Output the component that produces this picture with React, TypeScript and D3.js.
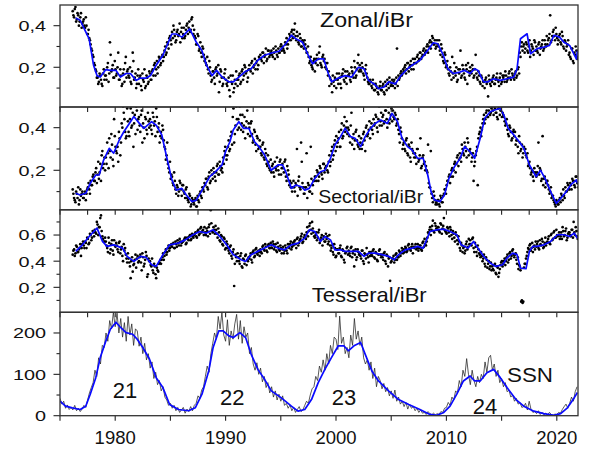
import React from 'react';
import * as d3 from 'd3';

// ---------- DATA ----------
const xDomain = [1975, 2021.92];
const xTickYears = [1980, 1990, 2000, 2010, 2020];

// scatter: set A starts 1976.15, set B starts 1976.2125, step 0.125 yr
const ptStart = 1976.15;
const ptStep = 0.125;

const zonalPts = [
  .47,.44,.49,.43,.45,.42,.46,.41, .43,.39,.40,.36,.34,.31,.28,.25, .21,.18,.15,.13,.16,.12,.17,.14,
  .16,.20,.13,.32,.18,.21,.15,.19, .17,.27,.14,.16,.12,.19,.22,.15, .19,.15,.13,.18,.23,.15,.10,.16,
  .12,.16,.09,.14,.19,.11,.15,.13, .17,.14,.19,.21,.16,.23,.20,.24, .22,.26,.25,.30,.27,.31,.34,.33,
  .37,.40,.35,.33,.38,.36,.32,.39, .36,.34,.38,.41,.39,.37,.43,.40, .38,.34,.31,.35,.29,.27,.30,.26,
  .24,.21,.19,.23,.16,.14,.18,.12, .20,.17,.08,.19,.15,.12,.17,.14, .11,.15,.06,.13,.16,.10,.12,.14,
  .14,.17,.13,.19,.16,.20,.18,.15, .21,.18,.23,.20,.24,.22,.19,.25, .26,.23,.27,.25,.29,.24,.28,.26,
  .28,.25,.27,.30,.26,.29,.27,.31, .30,.28,.32,.34,.31,.36,.33,.38, .36,.41,.33,.35,.31,.34,.30,.32,
  .33,.29,.27,.25,.23,.21,.19,.24, .22,.26,.24,.30,.21,.25,.23,.20, .19,.16,.11,.14,.08,.13,.15,.10,
  .14,.17,.12,.16,.19,.13,.15,.18, .16,.14,.20,.17,.23,.15,.19,.26, .21,.18,.20,.16,.19,.17,.13,.12,
  .13,.10,.12,.09,.11,.08,.10,.13, .09,.12,.07,.11,.14,.10,.13,.12, .11,.14,.12,.29,.16,.15,.18,.17,
  .18,.21,.19,.22,.20,.23,.21,.19, .24,.22,.26,.24,.27,.25,.28,.26, .28,.31,.30,.33,.32,.34,.31,.29,
  .33,.30,.28,.31,.25,.22,.26,.21, .19,.16,.18,.25,.15,.18,.20,.14, .17,.28,.16,.19,.15,.21,.12,.18,
  .20,.17,.19,.16,.26,.15,.18,.13, .16,.11,.13,.14,.12,.06,.14,.11, .13,.16,.12,.15,.14,.11,.17,.13,
  .15,.13,.16,.14,.17,.15,.19,.16, .14,.18,.16,.20,.27,.30,.28,.31, .29,.31,.27,.33,.28,.30,.26,.32,
  .30,.27,.32,.29,.31,.28,.33,.30, .31,.34,.45,.33,.37,.35,.39,.34, .33,.36,.31,.35,.29,.32,.30,.33,
  .27,.24,.29,.22,.26,.28,.25,.27,
];
const zonalPtsB = [
  .45,.48,.42,.46,.40,.44,.39,.42, .40,.44,.36,.38,.33,.29,.26,.22, .19,.15,.12,.17,.14,.11,.19,.16,
  .14,.22,.17,.26,.19,.15,.23,.16, .20,.14,.19,.11,.17,.13,.25,.18, .16,.20,.12,.27,.14,.17,.12,.19,
  .15,.11,.17,.13,.10,.16,.12,.18, .14,.18,.16,.22,.19,.17,.25,.21, .25,.23,.28,.26,.32,.29,.35,.31,
  .34,.38,.32,.37,.35,.41,.37,.34, .39,.35,.40,.36,.42,.38,.44,.36, .35,.31,.36,.28,.32,.25,.29,.23,
  .22,.25,.17,.20,.13,.18,.15,.19, .16,.21,.13,.18,.11,.15,.19,.12, .13,.09,.16,.12,.08,.14,.18,.11,
  .16,.12,.18,.14,.21,.17,.13,.19, .19,.22,.17,.21,.19,.23,.21,.24, .24,.27,.22,.26,.23,.28,.25,.27,
  .26,.29,.24,.28,.25,.27,.30,.28, .29,.27,.31,.29,.33,.35,.37,.34, .38,.35,.37,.32,.36,.30,.33,.29,
  .31,.27,.30,.22,.25,.20,.23,.18, .24,.21,.27,.22,.20,.26,.24,.22, .22,.18,.15,.12,.16,.11,.14,.17,
  .12,.15,.10,.17,.14,.18,.12,.16, .17,.13,.18,.15,.20,.16,.22,.18, .19,.22,.17,.14,.21,.15,.12,.14,
  .11,.14,.09,.12,.10,.07,.11,.09, .11,.08,.13,.09,.12,.15,.11,.14, .13,.10,.15,.11,.14,.17,.16,.19,
  .20,.17,.22,.18,.21,.19,.24,.22, .22,.25,.23,.27,.24,.26,.29,.27, .30,.27,.32,.29,.35,.31,.33,.30,
  .31,.33,.26,.29,.23,.27,.20,.23, .17,.20,.14,.17,.22,.16,.13,.19, .19,.15,.21,.17,.14,.19,.22,.16,
  .18,.21,.15,.19,.17,.14,.16,.12, .15,.13,.10,.15,.13,.16,.12,.14, .15,.12,.14,.17,.13,.15,.12,.16,
  .16,.18,.13,.15,.18,.14,.17,.15, .17,.15,.19,.17,.25,.32,.30,.27, .32,.28,.30,.25,.31,.29,.33,.28,
  .28,.31,.26,.30,.33,.29,.31,.35, .33,.36,.32,.35,.38,.33,.36,.31, .35,.32,.37,.30,.33,.28,.31,.26,
  .25,.29,.23,.27,.30,.24,.28,.26,
];

const sectorialPts = [
  .11,.07,.05,.09,.12,.06,.08,.10, .07,.10,.09,.12,.11,.15,.13,.18, .15,.21,.18,.16,.23,.27,.21,.26,
  .26,.33,.21,.29,.37,.25,.44,.31, .28,.24,.35,.33,.40,.47,.38,.36, .43,.36,.49,.41,.31,.46,.50,.39,
  .45,.38,.48,.42,.35,.44,.37,.43, .44,.39,.47,.41,.36,.45,.40,.33, .38,.41,.34,.30,.27,.23,.19,.16,
  .17,.13,.15,.09,.12,.10,.14,.08, .13,.09,.11,.07,.05,.08,.04,.06, .04,.07,.03,.06,.09,.08,.12,.10,
  .13,.16,.11,.19,.15,.18,.21,.17, .19,.23,.18,.22,.21,.26,.29,.27, .27,.34,.30,.38,.45,.33,.41,.44,
  .44,.50,.39,.46,.41,.35,.43,.37, .40,.42,.37,.34,.38,.29,.35,.31, .31,.27,.33,.25,.28,.22,.24,.20,
  .19,.23,.17,.21,.26,.20,.24,.18, .23,.19,.25,.15,.20,.13,.12,.10, .15,.10,.13,.08,.17,.11,.24,.12,
  .09,.12,.07,.13,.10,.16,.13,.15, .17,.20,.15,.22,.19,.16,.23,.21, .22,.19,.27,.24,.31,.27,.34,.36,
  .33,.38,.31,.42,.36,.45,.40,.37, .39,.33,.47,.35,.30,.38,.34,.31, .30,.35,.32,.38,.29,.41,.37,.43,
  .40,.39,.44,.42,.45,.38,.50,.43, .41,.46,.43,.48,.40,.47,.44,.49, .48,.44,.46,.42,.39,.33,.38,.30,
  .33,.29,.35,.27,.31,.24,.30,.28, .28,.23,.30,.25,.35,.22,.27,.24, .22,.19,.14,.12,.09,.05,.08,.04,
  .04,.06,.03,.07,.05,.09,.11,.13, .15,.18,.17,.21,.20,.24,.23,.27, .25,.26,.32,.28,.33,.29,.35,.27,
  .30,.24,.28,.22,.27,.31,.35,.38, .36,.42,.46,.44,.48,.45,.50,.47, .50,.46,.49,.47,.44,.50,.48,.45,
  .46,.43,.42,.39,.36,.40,.34,.38, .36,.32,.34,.28,.33,.30,.26,.31, .30,.26,.22,.24,.18,.20,.15,.19,
  .17,.22,.18,.20,.16,.13,.17,.14, .15,.11,.10,.07,.08,.05,.03,.05, .04,.07,.09,.06,.08,.12,.10,.13,
  .11,.13,.16,.15,.12,.17,.14,.16,
];
const sectorialPtsB = [
  .09,.06,.10,.07,.04,.11,.09,.07, .09,.06,.11,.14,.09,.13,.17,.15, .19,.14,.24,.19,.15,.29,.23,.20,
  .23,.28,.35,.26,.32,.22,.36,.29, .31,.38,.27,.42,.50,.44,.35,.49, .38,.44,.40,.47,.42,.37,.48,.44,
  .41,.46,.33,.40,.45,.39,.47,.40, .41,.37,.45,.43,.49,.38,.42,.36, .35,.39,.31,.25,.33,.21,.24,.18,
  .14,.19,.11,.13,.08,.15,.11,.13, .10,.07,.12,.06,.09,.03,.07,.05, .06,.03,.08,.05,.10,.07,.11,.14,
  .16,.12,.17,.14,.20,.16,.19,.15, .22,.18,.24,.20,.19,.23,.31,.25, .31,.29,.36,.32,.49,.37,.50,.39,
  .40,.46,.42,.38,.45,.40,.48,.42, .36,.43,.33,.39,.32,.36,.30,.34, .28,.32,.26,.30,.23,.27,.21,.25,
  .22,.19,.24,.20,.22,.18,.25,.21, .21,.24,.17,.22,.18,.15,.14,.12, .12,.14,.30,.15,.12,.33,.14,.09,
  .12,.28,.14,.10,.31,.09,.15,.17, .15,.19,.17,.21,.18,.23,.19,.22, .20,.24,.22,.29,.25,.32,.29,.31,
  .35,.31,.39,.35,.41,.38,.43,.40, .36,.41,.32,.37,.34,.39,.32,.36, .33,.30,.37,.34,.40,.36,.39,.35,
  .42,.37,.41,.46,.40,.44,.41,.47, .45,.42,.48,.44,.50,.42,.46,.43, .45,.47,.41,.44,.37,.40,.35,.32,
  .30,.34,.28,.32,.26,.33,.29,.26, .26,.30,.24,.27,.21,.26,.23,.20, .20,.32,.12,.29,.07,.10,.06,.05,
  .06,.04,.08,.05,.08,.11,.09,.15, .17,.14,.20,.17,.23,.19,.26,.22, .28,.24,.30,.27,.31,.26,.33,.29,
  .28,.26,.15,.24,.29,.13,.37,.40, .39,.44,.42,.47,.45,.48,.46,.49, .48,.50,.47,.45,.49,.46,.50,.47,
  .45,.41,.44,.37,.41,.38,.35,.39, .38,.34,.31,.36,.29,.32,.28,.30, .27,.28,.23,.21,.19,.17,.21,.18,
  .19,.33,.21,.15,.36,.16,.12,.15, .13,.09,.12,.08,.06,.04,.06,.04, .06,.05,.08,.11,.07,.10,.14,.11,
  .14,.11,.15,.13,.17,.14,.12,.15,
];

const tesseralPts = [
  .45,.49,.46,.51,.47,.50,.44,.53, .52,.55,.50,.57,.54,.60,.58,.62, .64,.61,.68,.66,.73,.63,.57,.55,
  .55,.50,.58,.46,.53,.48,.56,.51, .52,.47,.55,.49,.44,.53,.50,.42, .46,.39,.27,.43,.37,.41,.35,.44,
  .40,.45,.33,.43,.38,.47,.28,.42, .40,.36,.33,.38,.30,.35,.32,.39, .38,.43,.41,.47,.45,.50,.48,.52,
  .51,.54,.50,.53,.56,.52,.55,.54, .55,.57,.53,.58,.56,.60,.57,.59, .60,.62,.58,.64,.61,.66,.63,.60,
  .62,.65,.59,.68,.79,.63,.66,.61, .64,.58,.62,.55,.59,.52,.57,.50, .53,.48,.51,.44,.47,.21,.45,.40,
  .43,.38,.46,.35,.41,.44,.37,.40, .42,.46,.39,.48,.44,.50,.45,.47, .49,.46,.52,.48,.51,.47,.53,.50,
  .52,.55,.49,.53,.47,.51,.48,.50, .49,.46,.52,.48,.53,.50,.55,.51, .52,.56,.50,.58,.54,.57,.61,.55,
  .60,.57,.66,.63,.69,.61,.65,.59, .60,.56,.62,.54,.58,.52,.59,.55, .57,.53,.60,.48,.52,.45,.50,.44,
  .49,.46,.52,.43,.48,.39,.47,.51, .48,.44,.51,.46,.36,.49,.43,.47, .46,.42,.48,.38,.45,.50,.43,.47,
  .47,.44,.49,.42,.46,.40,.48,.45, .45,.41,.47,.38,.44,.42,.25,.40, .42,.39,.45,.41,.43,.47,.46,.48,
  .49,.51,.47,.52,.50,.48,.53,.51, .51,.49,.53,.50,.52,.48,.55,.57, .52,.58,.61,.66,.64,.71,.62,.67,
  .64,.66,.62,.68,.65,.73,.63,.61, .65,.59,.64,.57,.61,.55,.60,.53, .55,.48,.52,.50,.46,.53,.49,.57,
  .56,.52,.58,.47,.51,.44,.49,.45, .47,.40,.45,.36,.41,.38,.34,.39, .36,.33,.38,.30,.35,.31,.37,.40,
  .38,.42,.40,.45,.41,.47,.44,.49, .43,.46,.38,.34,.36,.09,.08,.35, .38,.44,.50,.52,.48,.54,.51,.49,
  .51,.55,.49,.53,.57,.50,.54,.52, .55,.59,.53,.61,.57,.63,.58,.60, .60,.57,.62,.66,.59,.63,.56,.61,
  .62,.59,.64,.70,.60,.63,.57,.61,
];
const tesseralPtsB = [
  .48,.44,.52,.47,.49,.53,.50,.55, .50,.54,.58,.53,.61,.56,.63,.59, .62,.70,.60,.66,.75,.59,.55,.58,
  .52,.47,.54,.49,.56,.45,.52,.54, .49,.54,.46,.51,.40,.48,.45,.39, .42,.36,.40,.32,.38,.45,.42,.39,
  .43,.39,.46,.36,.41,.44,.30,.40, .37,.42,.31,.36,.27,.33,.38,.41, .41,.46,.44,.49,.47,.52,.50,.53,
  .53,.50,.55,.51,.54,.57,.52,.55, .56,.58,.54,.57,.59,.56,.61,.58, .61,.59,.63,.60,.65,.62,.64,.66,
  .60,.63,.66,.61,.69,.62,.64,.67, .61,.65,.56,.60,.53,.58,.49,.55, .50,.46,.52,.42,.49,.38,.43,.46,
  .40,.44,.36,.42,.38,.45,.41,.43, .44,.41,.47,.43,.49,.46,.48,.44, .47,.51,.49,.53,.48,.52,.50,.54,
  .50,.53,.51,.48,.54,.49,.52,.46, .51,.48,.50,.46,.51,.53,.49,.54, .55,.53,.57,.52,.56,.59,.54,.58,
  .58,.62,.59,.67,.64,.70,.62,.58, .62,.58,.64,.56,.60,.57,.55,.61, .59,.55,.52,.50,.47,.53,.43,.49,
  .46,.50,.44,.49,.41,.46,.50,.45, .46,.50,.43,.48,.45,.41,.49,.45, .44,.48,.40,.46,.42,.45,.39,.44,
  .45,.48,.43,.47,.41,.45,.49,.43, .43,.46,.40,.45,.36,.43,.39,.42, .44,.41,.46,.43,.48,.44,.50,.46,
  .47,.50,.48,.53,.49,.51,.46,.50, .53,.50,.48,.52,.49,.54,.51,.53, .55,.62,.64,.60,.67,.63,.69,.65,
  .66,.63,.69,.61,.67,.64,.62,.66, .62,.66,.60,.63,.58,.62,.56,.59, .50,.54,.47,.51,.48,.55,.51,.53,
  .53,.57,.50,.54,.47,.52,.46,.43, .44,.42,.38,.43,.35,.40,.36,.33, .34,.37,.31,.36,.28,.34,.39,.36,
  .40,.37,.43,.39,.46,.42,.48,.45, .45,.41,.43,.37,.33,.10,.09,.38, .42,.47,.49,.53,.50,.47,.52,.55,
  .53,.50,.56,.52,.55,.51,.58,.54, .57,.54,.60,.56,.62,.58,.64,.59, .62,.59,.57,.63,.60,.65,.58,.62,
  .60,.64,.58,.62,.66,.59,.63,.60,
];

// smoothed (blue) curves: years + values
const zonalYears = [1976.42,1976.83,1977.64,1978.04,1978.35,1978.65,1979.15,1979.56,1980.07,1980.47,1980.98,1981.38,1981.89,1982.29,1982.8,1983.2,1983.71,1984.32,1985.13,1985.53,1986.04,1986.75,1987.35,1987.86,1988.27,1988.77,1989.18,1989.68,1990.29,1990.7,1991.2,1991.71,1992.31,1992.92,1993.53,1994.24,1994.84,1995.45,1995.96,1996.36,1996.97,1997.48,1997.88,1998.39,1998.89,1999.3,1999.6,2000.21,2000.82,2001.42,2002.03,2002.54,2002.94,2003.45,2003.85,2004.36,2004.76,2005.37,2005.88,2006.48,2006.89,2007.6,2008.2,2008.81,2009.22,2009.72,2010.13,2010.63,2011.24,2011.65,2012.15,2012.56,2012.86,2013.37,2013.77,2014.28,2014.88,2015.49,2016.1,2016.4,2016.71,2017.31,2017.62,2018.22,2018.83,2019.34,2019.74,2020.25,2020.65,2021.16,2021.77,2021.87];
const zonalSmooth = [.437,.426,.337,.21,.16,.153,.189,.185,.185,.153,.17,.17,.137,.148,.148,.16,.21,.258,.36,.36,.345,.385,.32,.28,.21,.16,.185,.153,.13,.13,.153,.177,.193,.234,.258,.27,.277,.313,.354,.337,.32,.258,.217,.24,.24,.17,.13,.148,.16,.153,.2,.193,.137,.12,.097,.105,.13,.12,.16,.193,.21,.234,.274,.318,.313,.258,.193,.17,.177,.185,.17,.193,.185,.13,.13,.145,.137,.145,.153,.193,.337,.361,.265,.29,.297,.305,.354,.345,.32,.305,.24,.28];

const sectorialYears = [1976.42,1976.83,1977.33,1977.74,1978.24,1978.55,1978.95,1979.46,1979.86,1980.37,1980.78,1981.28,1981.69,1982.19,1982.6,1983.3,1983.71,1984.22,1984.62,1985.13,1985.53,1986.04,1986.44,1986.95,1987.35,1987.96,1988.57,1989.07,1989.68,1989.99,1990.39,1990.69,1991.2,1991.61,1992.11,1992.62,1993.02,1993.53,1994.13,1994.74,1995.15,1995.45,1995.96,1996.36,1996.87,1997.17,1997.58,1998.08,1998.59,1998.99,1999.5,1999.9,2000.41,2000.82,2001.32,2001.73,2002.23,2002.64,2003.14,2003.55,2004.05,2004.66,2005.07,2005.57,2005.98,2006.48,2006.89,2007.39,2007.9,2008.31,2008.61,2008.91,2009.42,2009.82,2010.23,2010.73,2011.24,2011.65,2012.15,2012.56,2013.06,2013.47,2013.97,2014.38,2014.88,2015.19,2015.59,2016.1,2016.6,2017.01,2017.52,2018.12,2018.53,2018.93,2019.44,2019.95,2020.35,2020.86,2021.26,2021.77,2021.87];
const sectorialSmooth = [.092,.084,.092,.139,.178,.178,.248,.303,.28,.342,.381,.42,.452,.42,.397,.428,.412,.366,.272,.155,.107,.115,.084,.053,.06,.115,.17,.193,.225,.287,.334,.389,.428,.397,.397,.334,.311,.272,.2,.225,.225,.193,.115,.131,.123,.107,.115,.162,.193,.2,.256,.319,.358,.397,.358,.35,.311,.358,.397,.42,.436,.42,.467,.428,.35,.311,.295,.256,.256,.178,.1,.061,.053,.084,.162,.217,.256,.311,.287,.256,.35,.444,.475,.483,.491,.46,.397,.366,.334,.303,.225,.17,.2,.162,.1,.045,.068,.1,.131,.155,.139];

const tesseralYears = [1976.42,1977.03,1977.64,1978.35,1978.85,1979.26,1979.86,1980.67,1981.08,1981.69,1982.29,1982.8,1983.3,1983.71,1984.32,1984.93,1985.73,1986.34,1987.05,1987.66,1988.27,1988.87,1989.48,1990.09,1990.7,1991.4,1991.81,1992.31,1992.92,1993.53,1994.14,1994.74,1995.35,1995.96,1996.56,1997.17,1997.58,1998.08,1998.59,1998.99,1999.5,1999.9,2000.41,2000.82,2001.42,2002.03,2002.54,2002.94,2003.55,2004.16,2004.76,2005.27,2005.67,2006.28,2006.89,2007.4,2007.9,2008.51,2009.12,2009.72,2010.33,2010.94,2011.34,2011.95,2012.46,2012.86,2013.37,2013.97,2014.48,2015.09,2015.49,2016.0,2016.4,2016.71,2017.21,2017.52,2017.82,2018.22,2018.83,2019.44,2020.05,2020.65,2021.16,2021.57,2021.87];
const tesseralSmooth = [.475,.525,.589,.653,.551,.513,.525,.5,.437,.398,.437,.43,.373,.36,.45,.525,.538,.563,.602,.627,.615,.64,.589,.525,.45,.411,.398,.45,.475,.5,.525,.5,.487,.525,.538,.576,.64,.627,.551,.589,.563,.487,.487,.475,.475,.475,.437,.462,.462,.45,.437,.411,.45,.487,.5,.513,.5,.627,.64,.645,.627,.602,.525,.5,.551,.5,.437,.386,.36,.373,.424,.462,.45,.347,.342,.475,.513,.513,.525,.551,.602,.602,.589,.615,.576];

// sunspot number: raw every 1/6 yr from 1975.0
const ssnStart = 1975;
const ssnStep = 1 / 6;
const ssnRaw = [
  42,28,35,18,26,15, 20,14,25,12,18,10, 16,25,20,38,55,68, 80,110,95,140,125,170,
  165,200,180,230,210,250, 215,248,200,235,190,225, 180,240,195,222,170,210, 205,168,190,150,175,135,
  150,115,130,90,105,75, 85,60,70,45,38,25, 30,18,25,12,20,8, 14,20,6,16,10,22,
  12,25,30,48,42,62, 70,95,120,105,150,175, 200,185,240,210,250,195, 180,232,170,205,185,222,
  245,185,230,175,215,190, 200,150,165,125,110,128, 100,115,82,95,68,80, 55,70,45,60,38,52,
  35,48,25,30,18,26, 12,20,8,15,22,10, 14,25,35,30,50,65, 70,95,85,120,105,135,
  110,150,125,170,150,190, 185,160,241,175,190,150, 165,140,195,170,235,185, 205,170,190,140,125,135,
  110,130,90,115,70,95, 85,65,78,58,68,48, 60,42,62,35,45,28, 35,22,32,16,28,18,
  22,12,18,8,14,6, 8,3,10,5,2,6, 2,5,3,10,8,18, 20,32,25,45,38,60,
  55,85,70,110,95,138, 100,75,110,85,70,95, 80,100,90,130,105,140, 146,110,125,95,110,80,
  90,70,80,58,62,45, 50,35,42,28,32,20, 22,30,14,35,15,8, 10,5,12,3,8,2,
  6,2,8,3,1,4, 3,8,6,15,22,28, 18,30,45,35,58,70,
];
const ssnSmoothYears = [1975.0,1975.5,1976.12,1976.83,1977.33,1977.74,1978.24,1978.65,1979.16,1979.56,1980.07,1980.47,1980.98,1981.58,1981.99,1982.5,1983.1,1983.71,1984.32,1984.93,1985.73,1986.65,1987.25,1987.86,1988.47,1988.87,1989.38,1989.78,1990.29,1990.7,1991.3,1991.81,1992.31,1992.92,1993.53,1994.14,1995.05,1995.96,1996.56,1997.17,1997.78,1998.39,1998.99,1999.6,2000.21,2000.71,2001.12,2001.63,2002.23,2002.64,2003.25,2003.85,2004.76,2005.67,2006.59,2007.6,2008.51,2009.12,2009.72,2010.33,2010.94,2011.54,2012.15,2012.56,2013.06,2013.67,2014.28,2014.88,2015.49,2016.3,2017.01,2017.92,2018.83,2019.74,2020.35,2020.96,2021.57,2021.87];
const ssnSmooth = [35,23,19,15,23,52,92,141,181,209,226,214,201,197,185,165,137,92,68,27,15,12,19,52,108,165,205,205,193,189,201,189,149,112,88,60,43,23,11,15,39,80,112,141,169,169,157,169,177,149,108,84,60,39,27,15,3,1,7,23,52,84,96,84,84,104,112,92,68,39,23,11,5,1,5,19,43,56];

const yTicksFrac1 = [0.2, 0.4];
const yMinor1 = [0.1, 0.3];
const yTicksFrac2 = [0.2, 0.4];
const yMinor2 = [0.1, 0.3];
const yTicksFrac3 = [0.2, 0.4, 0.6];
const yMinor3 = [0.1, 0.3, 0.5, 0.7];
const yTicksSSN = [0, 100, 200];
const yMinorSSN = [50, 150];

const cycleLabels = ['21', '22', '23', '24'];

// ---------- CHART ----------
const FONT = "'Liberation Sans', Arial, Helvetica, sans-serif";
const BLUE = '#0a0aff';
const L = 60, R = 578;

const fmtFrac = (v: number) => d3.format('.1f')(v).replace('.', ',');

export default function App() {
  const x = d3.scaleLinear().domain(xDomain).range([L, R]);

  const panels = [
    { id: 'p1', top: 5, bottom: 107, domain: [0.009, 0.4995], major: yTicksFrac1, minor: yMinor1, fmt: fmtFrac, pts: zonalPts, ptsB: zonalPtsB, sx: zonalYears, sy: zonalSmooth, topTicks: false },
    { id: 'p2', top: 107, bottom: 209.8, domain: [0.0146, 0.497], major: yTicksFrac2, minor: yMinor2, fmt: fmtFrac, pts: sectorialPts, ptsB: sectorialPtsB, sx: sectorialYears, sy: sectorialSmooth, topTicks: true },
    { id: 'p3', top: 209.8, bottom: 312.3, domain: [0.009, 0.793], major: yTicksFrac3, minor: yMinor3, fmt: fmtFrac, pts: tesseralPts, ptsB: tesseralPtsB, sx: tesseralYears, sy: tesseralSmooth, topTicks: true },
  ];
  const ssnPanel = { top: 312.3, bottom: 415.7 };
  const ySSN = d3.scaleLinear().domain([0, 250]).range([ssnPanel.bottom, ssnPanel.top]);

  const quarterTicks = d3.range(1975, 2022, 2.5);
  const fiveTicks = d3.range(1975, 2022, 5);

  const yLabel = (key: string, yy: number, txt: string) => (
    <text key={key} transform={`translate(46,${yy}) scale(1.28,1)`} textAnchor="end" dy="0.35em" fontSize={15.5} fill="#111">{txt}</text>
  );

  return (
    <svg width={589} height={451} style={{ position: 'absolute', left: 0, top: 0, background: '#fff' }} fontFamily={FONT}>
      <defs>
        {panels.map(p => (
          <clipPath id={`clip-${p.id}`} key={p.id}>
            <rect x={L} y={p.top} width={R - L} height={p.bottom - p.top} />
          </clipPath>
        ))}
        <clipPath id="clip-ssn">
          <rect x={L} y={ssnPanel.top} width={R - L} height={ssnPanel.bottom - ssnPanel.top} />
        </clipPath>
      </defs>
      <rect x={0} y={0} width={589} height={451} fill="#fff" />

      {panels.map(p => {
        const y = d3.scaleLinear().domain(p.domain).range([p.bottom, p.top]);
        const line = d3.line<number>().x((_, i) => x(p.sx[i])).y(d => y(d));
        return (
          <g key={p.id}>
            <g clipPath={`url(#clip-${p.id})`}>
              {p.pts.map((v, i) => (
                <circle key={'a' + i} cx={x(ptStart + i * ptStep)} cy={y(v)} r={1.35} fill="#000" />
              ))}
              {p.ptsB.map((v, i) => (
                <circle key={'b' + i} cx={x(ptStart + ptStep / 2 + i * ptStep)} cy={y(v)} r={1.35} fill="#000" />
              ))}
              <path d={line(p.sy) || ''} fill="none" stroke={BLUE} strokeWidth={1.7} strokeLinejoin="round" />
            </g>
            {p.major.map(t => (
              <line key={'M' + t} x1={L - 6.5} x2={L} y1={y(t)} y2={y(t)} stroke="#222" strokeWidth={1.1} />
            ))}
            {p.minor.map(t => (
              <line key={'m' + t} x1={L - 3.5} x2={L} y1={y(t)} y2={y(t)} stroke="#222" strokeWidth={1.1} />
            ))}
            {p.major.map(t => yLabel(p.id + t, y(t), p.fmt(t)))}
            {p.topTicks && quarterTicks.map(t => (
              <line key={'t' + t} x1={x(t)} x2={x(t)} y1={p.top} y2={p.top + 5} stroke="#222" strokeWidth={1.1} />
            ))}
            <rect x={L} y={p.top} width={R - L} height={p.bottom - p.top} fill="none" stroke="#333" strokeWidth={1.3} />
          </g>
        );
      })}

      {/* SSN panel */}
      <g>
        <g clipPath="url(#clip-ssn)">
          <path
            d={d3.line<number>().x((_, i) => x(ssnStart + i * ssnStep)).y(d => ySSN(d))(ssnRaw) || ''}
            fill="none" stroke="#222" strokeWidth={0.75} strokeLinejoin="round"
          />
          <path
            d={d3.line<number>().x((_, i) => x(ssnSmoothYears[i])).y(d => ySSN(d))(ssnSmooth) || ''}
            fill="none" stroke={BLUE} strokeWidth={1.7} strokeLinejoin="round"
          />
        </g>
        {yTicksSSN.map(t => (
          <line key={'M' + t} x1={L - 6.5} x2={L} y1={ySSN(t)} y2={ySSN(t)} stroke="#222" strokeWidth={1.1} />
        ))}
        {yMinorSSN.map(t => (
          <line key={'m' + t} x1={L - 3.5} x2={L} y1={ySSN(t)} y2={ySSN(t)} stroke="#222" strokeWidth={1.1} />
        ))}
        {yTicksSSN.map(t => yLabel('s' + t, ySSN(t), String(t)))}
        {quarterTicks.map(t => (
          <line key={'t' + t} x1={x(t)} x2={x(t)} y1={ssnPanel.top} y2={ssnPanel.top + 5} stroke="#222" strokeWidth={1.1} />
        ))}
        {fiveTicks.map(t => (
          <line key={'b' + t} x1={x(t)} x2={x(t)} y1={ssnPanel.bottom} y2={ssnPanel.bottom + 5} stroke="#222" strokeWidth={1.1} />
        ))}
        <rect x={L} y={ssnPanel.top} width={R - L} height={ssnPanel.bottom - ssnPanel.top} fill="none" stroke="#333" strokeWidth={1.3} />
        {xTickYears.map(t => (
          <text key={'x' + t} x={x(t)} y={444} textAnchor="middle" fontSize={18.5} fill="#111">{t}</text>
        ))}
      </g>

      {/* panel titles */}
      <text x={320} y={27.3} fontSize={19.5} textLength={93} lengthAdjust="spacingAndGlyphs" fill="#111">Zonal/iBr</text>
      <text x={318.3} y={203.3} fontSize={18.6} textLength={105} lengthAdjust="spacingAndGlyphs" fill="#111">Sectorial/iBr</text>
      <text x={311.7} y={301.7} fontSize={21} textLength={115} lengthAdjust="spacingAndGlyphs" fill="#111">Tesseral/iBr</text>
      <text x={507} y={382.3} fontSize={20.5} textLength={46} lengthAdjust="spacingAndGlyphs" fill="#111">SSN</text>
      <text x={112.7} y={398.3} fontSize={22} fill="#111">{cycleLabels[0]}</text>
      <text x={220} y={405} fontSize={22} fill="#111">{cycleLabels[1]}</text>
      <text x={331.7} y={405} fontSize={22} fill="#111">{cycleLabels[2]}</text>
      <text x={472.7} y={414.3} fontSize={22} fill="#111">{cycleLabels[3]}</text>
    </svg>
  );
}
